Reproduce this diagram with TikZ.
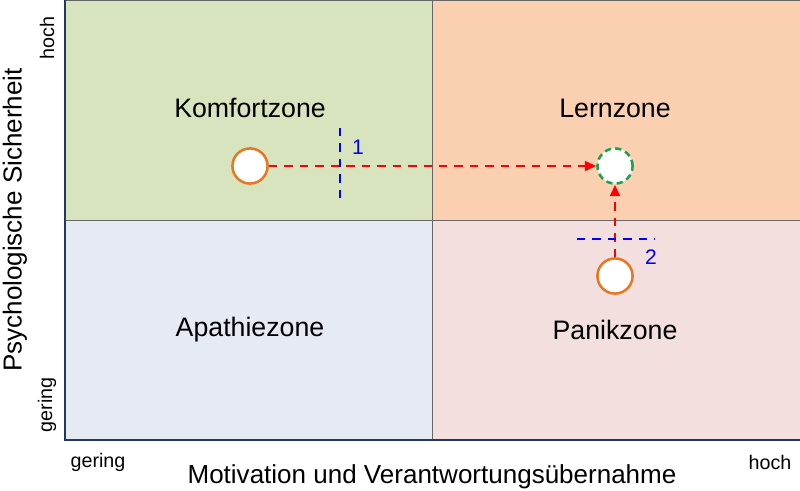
\documentclass[tikz,border=0pt]{standalone}
\usepackage{fontspec}
\setmainfont{Liberation Sans}
\usetikzlibrary{arrows.meta}
\definecolor{qgreen}{HTML}{D7E4BD}
\definecolor{qorange}{HTML}{FAD0B1}
\definecolor{qblue}{HTML}{E6EAF3}
\definecolor{qpink}{HTML}{F4DFDF}
\definecolor{axisblue}{HTML}{1F3864}
\definecolor{circorange}{HTML}{E87722}
\definecolor{circgreen}{HTML}{1AA34A}
\begin{document}
\begin{tikzpicture}[x=0.025cm,y=-0.025cm,
  quad/.style={draw=black!60,line width=0.4pt},
  zone/.style={font=\fontsize{19}{22}\selectfont},
  small/.style={font=\fontsize{14}{16}\selectfont},
  circ/.style={circle,minimum size=25pt,inner sep=0pt,fill=white,line width=1.8pt},
  redarrow/.style={red,line width=1.6pt,dash pattern=on 6pt off 5pt,-{Triangle[length=8pt,width=7pt]}},
  bluedash/.style={blue,line width=1.6pt,dash pattern=on 6pt off 5pt},
  num/.style={blue,font=\fontsize{15}{17}\selectfont}]
\useasboundingbox (0,0) rectangle (800,491);
\fill[qgreen] (65,0) rectangle (432,220);
\fill[qorange] (432,0) rectangle (800,220);
\fill[qblue] (65,220) rectangle (432,440);
\fill[qpink] (432,220) rectangle (800,440);
\draw[quad] (432,0) -- (432,440);
\draw[quad] (65,220) -- (800,220);
\draw[quad] (65,0) -- (800,0) -- (800,440);
\draw[axisblue,line width=1.8pt] (65,0) -- (65,440) -- (800,440);
\node[zone] (k) at (250,108) {Komfortzone};
\node[zone] (l) at (615,108) {Lernzone};
\node[zone] (a) at (250,330) {Apathiezone};
\node[zone] (p) at (615,330) {Panikzone};
\node[small,rotate=90] (hoch1) at (47,38) {hoch};
\node[small,rotate=90] (ger1) at (47,405) {gering};
\node[small] (ger2) at (98,462) {gering};
\node[small] (hoch2) at (770,462) {hoch};
\node[font=\fontsize{18.5}{21}\selectfont,rotate=90] (ya) at (15,220) {Psychologische Sicherheit};
\node[font=\fontsize{18.5}{21}\selectfont] (xa) at (432,477) {Motivation und Verantwortungsübernahme};
\node[circ,draw=circorange] (c1) at (250,166) {};
\node[circ,draw=circgreen,dash pattern=on 4.5pt off 3pt] (c2) at (615,166) {};
\node[circ,draw=circorange] (c3) at (615,276) {};
\draw[redarrow] (c1) -- (c2);
\draw[redarrow] (c3) -- (c2);
\coordinate (b1t) at (340,128); \coordinate (b1b) at (340,204);
\draw[bluedash] (b1t) -- (b1b);
\coordinate (b2l) at (577,239); \coordinate (b2r) at (655,239);
\draw[bluedash] (b2l) -- (b2r);
\node[num] (n1) at (358,147) {1};
\node[num] (n2) at (651,257) {2};
\end{tikzpicture}
\end{document}
